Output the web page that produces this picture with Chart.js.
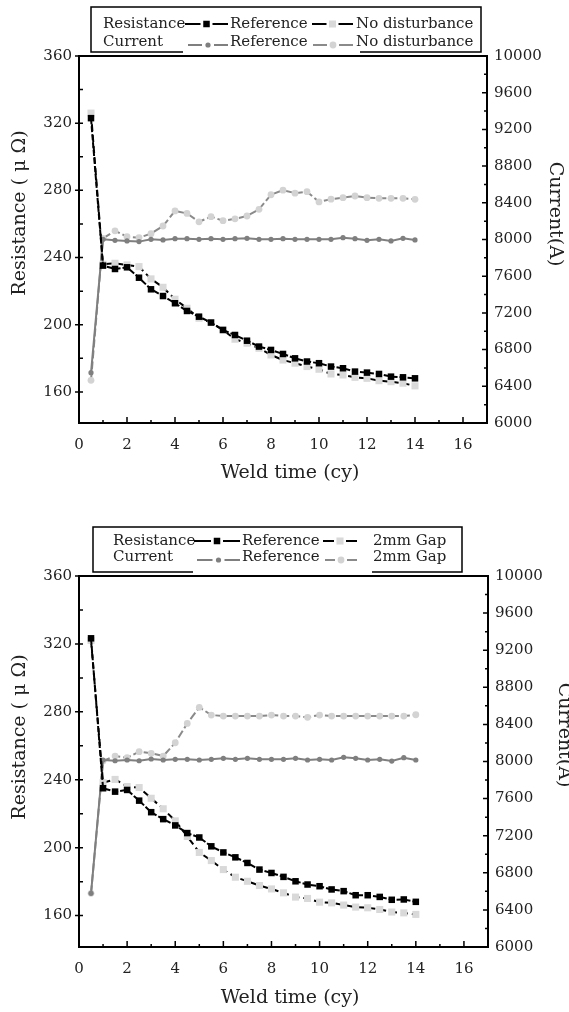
<!DOCTYPE html>
<html>
<head>
<meta charset="utf-8">
<script src="https://cdn.jsdelivr.net/npm/chart.js@4.4.1/dist/chart.umd.min.js"></script>
<style>
  html, body { margin: 0; padding: 0; background: #fff; }
  #wrap { position: relative; width: 569px; height: 1012px; overflow: hidden; }
  canvas { position: absolute; left: 0; }
</style>
</head>
<body>
<div id="wrap">
  <canvas id="chart-top" width="569" height="506" style="top:0px"></canvas>
  <canvas id="chart-bottom" width="569" height="506" style="top:506px"></canvas>
</div>
<script>
// ---------------------------------------------- DATA ----------------------------------------------
const weldTime = [0.5, 1, 1.5, 2, 2.5, 3, 3.5, 4, 4.5, 5, 5.5, 6, 6.5, 7, 7.5, 8, 8.5, 9, 9.5, 10, 10.5, 11, 11.5, 12, 12.5, 13, 13.5, 14];

// upper chart : reference / no disturbance
const resRefTop = [323, 235.2, 233.2, 234.2, 228.0, 221.1, 217.1, 212.8, 208.2, 204.8, 201.3, 196.9, 193.9, 190.5, 187.0, 185.0, 182.6, 180.0, 178.1, 177.1, 175.1, 174.1, 172.1, 171.5, 170.7, 169.1, 168.7, 168.1];
const resNoDistTop = [326, 236.0, 236.6, 235.6, 234.6, 227.3, 222.3, 215.2, 209.8, 203.9, 201.3, 196.9, 191.4, 189.0, 186.0, 182.0, 179.0, 177.1, 175.1, 173.5, 170.7, 170.1, 168.7, 168.1, 166.7, 166.1, 165.2, 163.6];
const curRefTop = [6548, 8002, 7991, 7984, 7977, 8002, 7995, 8009, 8009, 8002, 8009, 8002, 8009, 8013, 8002, 8002, 8009, 8002, 8002, 8002, 8002, 8020, 8009, 7991, 8002, 7984, 8013, 7995];
const curNoDistTop = [6465, 8013, 8095, 8030, 8020, 8064, 8147, 8311, 8284, 8193, 8249, 8205, 8225, 8256, 8329, 8488, 8538, 8505, 8521, 8410, 8440, 8456, 8474, 8456, 8449, 8449, 8449, 8438];

// lower chart : reference / 2mm gap
const resRefBot = [323.3, 235, 233, 234, 227.7, 220.9, 216.8, 213.1, 208.6, 206, 200.8, 197.2, 194.3, 191, 187.1, 185.1, 182.8, 180.2, 178.3, 177.3, 175.4, 174.4, 172, 172, 171, 169.3, 169.5, 168.1];
const resGapBot = [322, 238.3, 240.2, 236, 235.4, 229.1, 222.9, 215.8, 206.6, 197.2, 192.4, 187.1, 182.6, 180.2, 177.7, 175.7, 173.4, 170.9, 170.1, 167.9, 167.5, 166.2, 165, 164.6, 163.6, 162.1, 161.6, 160.7];
const curRefBot = [6579, 8016, 8008, 8016, 8008, 8027, 8016, 8023, 8023, 8016, 8023, 8034, 8023, 8034, 8023, 8023, 8023, 8034, 8016, 8023, 8016, 8045, 8034, 8016, 8023, 8005, 8041, 8016];
const curGapBot = [6579, 8005, 8059, 8041, 8106, 8088, 8059, 8202, 8411, 8584, 8501, 8490, 8490, 8490, 8490, 8501, 8490, 8490, 8476, 8501, 8490, 8490, 8490, 8490, 8490, 8490, 8490, 8504];

const timeTicks = [0, 2, 4, 6, 8, 10, 12, 14, 16];
const resTicks = [160, 200, 240, 280, 320, 360];
const curTicks = [6000, 6400, 6800, 7200, 7600, 8000, 8400, 8800, 9200, 9600, 10000];

const seriesTop = ['Reference', 'No disturbance'];
const seriesBot = ['Reference', '2mm Gap'];
const rowNames = ['Resistance', 'Current'];

const FONT = "'DejaVu Serif', 'Liberation Serif', serif";
const INK = '#222';

// ---------------------------------------------- HELPERS ----------------------------------------------
function pts(arr) {
    return weldTime.map((t, i) => ({ x: t, y: arr[i] }));
}

function buildDatasets(resA, resB, curA, curB, names) {
    return [
        { label: names[0], data: pts(resA), yAxisID: 'yR', borderColor: '#000', borderWidth: 2, borderDash: [6, 2],
          pointStyle: 'rect', pointRadius: 4.6, pointBackgroundColor: '#000', pointBorderWidth: 0, order: 1 },
        { label: names[1], data: pts(resB), yAxisID: 'yR', borderColor: '#000', borderWidth: 2, borderDash: [7, 4],
          pointStyle: 'rect', pointRadius: 5, pointBackgroundColor: '#d9d9d9', pointBorderWidth: 0, order: 2 },
        { label: names[0], data: pts(curA), yAxisID: 'yC', borderColor: '#7f7f7f', borderWidth: 2,
          pointStyle: 'circle', pointRadius: 2.6, pointBackgroundColor: '#7f7f7f', pointBorderWidth: 0, order: 3 },
        { label: names[1], data: pts(curB), yAxisID: 'yC', borderColor: '#8a8a8a', borderWidth: 2, borderDash: [8, 3],
          pointStyle: 'circle', pointRadius: 3.4, pointBackgroundColor: '#d3d3d3', pointBorderWidth: 0, order: 4 }
    ];
}

// frame, tick marks, axis titles and the boxed legend
const framePlugin = {
    id: 'frame',
    afterDraw(chart, args, o) {
        const ctx = chart.ctx;
        const a = chart.chartArea;
        const sx = chart.scales.x, sr = chart.scales.yR, sc = chart.scales.yC;
        ctx.save();
        ctx.strokeStyle = '#000';
        ctx.lineWidth = 2;
        ctx.strokeRect(a.left, a.top, a.right - a.left, a.bottom - a.top);

        ctx.lineWidth = 1.5;
        ctx.beginPath();
        // bottom axis ticks (inward)
        for (let v = 0; v <= 17; v++) {
            const px = sx.getPixelForValue(v);
            ctx.moveTo(px, a.bottom);
            ctx.lineTo(px, a.bottom - (v % 2 === 0 ? 6 : 3));
        }
        // left axis ticks
        for (let v = 160; v <= 360; v += 20) {
            const py = sr.getPixelForValue(v);
            ctx.moveTo(a.left, py);
            ctx.lineTo(a.left + 4, py);
            if (resTicks.includes(v)) {
                ctx.moveTo(a.left, py);
                ctx.lineTo(a.left - 4, py);
            }
        }
        // right axis ticks (inward)
        for (let v = 6000; v <= 10000; v += 200) {
            const py = sc.getPixelForValue(v);
            ctx.moveTo(a.right, py);
            ctx.lineTo(a.right - (v % 400 === 0 ? 5 : 3), py);
        }
        ctx.stroke();

        // axis titles
        ctx.fillStyle = INK;
        ctx.font = '19px ' + FONT;
        ctx.textAlign = 'center';
        ctx.textBaseline = 'middle';
        ctx.fillText(o.titles.x, o.titles.xPos[0], o.titles.xPos[1]);
        ctx.save();
        ctx.translate(o.titles.leftPos[0], o.titles.leftPos[1]);
        ctx.rotate(-Math.PI / 2);
        ctx.fillText(o.titles.left, 0, 0);
        ctx.restore();
        ctx.save();
        ctx.translate(o.titles.rightPos[0], o.titles.rightPos[1]);
        ctx.rotate(Math.PI / 2);
        ctx.fillText(o.titles.right, 0, 0);
        ctx.restore();

        // legend box
        const lg = o.legend;
        const b = lg.box;
        ctx.lineWidth = 1.5;
        ctx.strokeStyle = '#000';
        ctx.beginPath();
        ctx.moveTo(lg.gap[0], b[3]);
        ctx.lineTo(b[0], b[3]);
        ctx.lineTo(b[0], b[1]);
        ctx.lineTo(b[2], b[1]);
        ctx.lineTo(b[2], b[3]);
        ctx.lineTo(lg.gap[1], b[3]);
        ctx.stroke();

        ctx.font = '15px ' + FONT;
        ctx.textAlign = 'left';
        lg.rows.forEach((row, r) => {
            ctx.fillStyle = INK;
            ctx.fillText(rowNames[r], lg.nameX, row.y);
            row.items.forEach((it, k) => {
                const ds = chart.data.datasets[it.ds];
                const xm = (it.x0 + it.x1) / 2;
                const ly = row.lineY;
                ctx.strokeStyle = ds.borderColor;
                ctx.lineWidth = 2;
                ctx.beginPath();
                ctx.moveTo(it.x0, ly); ctx.lineTo(xm - 6, ly);
                ctx.moveTo(xm + 6, ly); ctx.lineTo(it.x1, ly);
                ctx.stroke();
                ctx.fillStyle = ds.pointBackgroundColor;
                ctx.beginPath();
                if (ds.pointStyle === 'rect') {
                    const s = ds.pointRadius * Math.SQRT1_2;
                    ctx.rect(xm - s, ly - s, 2 * s, 2 * s);
                } else {
                    ctx.arc(xm, ly, ds.pointRadius, 0, Math.PI * 2);
                }
                ctx.fill();
                ctx.fillStyle = INK;
                ctx.fillText(ds.label, lg.textX[k], row.y);
            });
        });
        ctx.restore();
    }
};

function makeChart(id, datasets, L) {
    const H = 506, W = 569;
    return new Chart(document.getElementById(id).getContext('2d'), {
        type: 'line',
        data: { datasets: datasets },
        plugins: [framePlugin],
        options: {
            responsive: false,
            animation: false,
            devicePixelRatio: 1,
            layout: { padding: { top: L.top, left: 0, right: 0, bottom: 0 }, autoPadding: false },
            plugins: {
                legend: { display: false },
                tooltip: { enabled: false },
                frame: { titles: L.titles, legend: L.legend }
            },
            scales: {
                x: {
                    type: 'linear', position: 'bottom', min: 0, max: 17,
                    grid: { display: false, drawTicks: false }, border: { display: false },
                    afterBuildTicks: s => { s.ticks = timeTicks.map(v => ({ value: v })); },
                    afterFit: s => { s.height = H - L.bottom; },
                    ticks: { padding: 13, color: INK, font: { family: FONT, size: 15 }, maxRotation: 0,
                             callback: v => String(v) }
                },
                yR: {
                    type: 'linear', position: 'left', min: 141.5, max: 360,
                    grid: { display: false, drawTicks: false }, border: { display: false },
                    afterBuildTicks: s => { s.ticks = resTicks.map(v => ({ value: v })); },
                    afterFit: s => { s.width = L.left; },
                    ticks: { padding: 7, color: INK, font: { family: FONT, size: 15 }, callback: v => String(v) }
                },
                yC: {
                    type: 'linear', position: 'right', min: 6000, max: 10000,
                    grid: { display: false, drawTicks: false }, border: { display: false },
                    afterBuildTicks: s => { s.ticks = curTicks.map(v => ({ value: v })); },
                    afterFit: s => { s.width = W - L.right; },
                    ticks: { padding: 7, color: INK, font: { family: FONT, size: 15 }, callback: v => String(v) }
                }
            }
        }
    });
}

// ---------------------------------------------- CHARTS ----------------------------------------------
makeChart('chart-top', buildDatasets(resRefTop, resNoDistTop, curRefTop, curNoDistTop, seriesTop), {
    left: 79, right: 487, top: 56, bottom: 423,
    titles: { x: 'Weld time (cy)', xPos: [290, 473],
              left: 'Resistance ( μ Ω)', leftPos: [20, 213],
              right: 'Current(A)', rightPos: [555, 214] },
    legend: { box: [91, 7, 481, 52], gap: [183, 360], nameX: 103, textX: [230, 356],
              rows: [{ y: 24, lineY: 24, items: [{ ds: 0, x0: 185, x1: 228 }, { ds: 1, x0: 312, x1: 353 }] },
                     { y: 42, lineY: 45, items: [{ ds: 2, x0: 188, x1: 228 }, { ds: 3, x0: 313, x1: 353 }] }] }
});

makeChart('chart-bottom', buildDatasets(resRefBot, resGapBot, curRefBot, curGapBot, seriesBot), {
    left: 79, right: 488, top: 70, bottom: 441,
    titles: { x: 'Weld time (cy)', xPos: [290, 492],
              left: 'Resistance ( μ Ω)', leftPos: [20, 231],
              right: 'Current(A)', rightPos: [564, 229] },
    legend: { box: [93, 21, 462, 66], gap: [193, 372], nameX: 113, textX: [242, 373],
              rows: [{ y: 35, lineY: 35, items: [{ ds: 0, x0: 194, x1: 240 }, { ds: 1, x0: 323, x1: 357 }] },
                     { y: 51, lineY: 54, items: [{ ds: 2, x0: 197, x1: 240 }, { ds: 3, x0: 325, x1: 357 }] }] }
});
</script>
</body>
</html>
